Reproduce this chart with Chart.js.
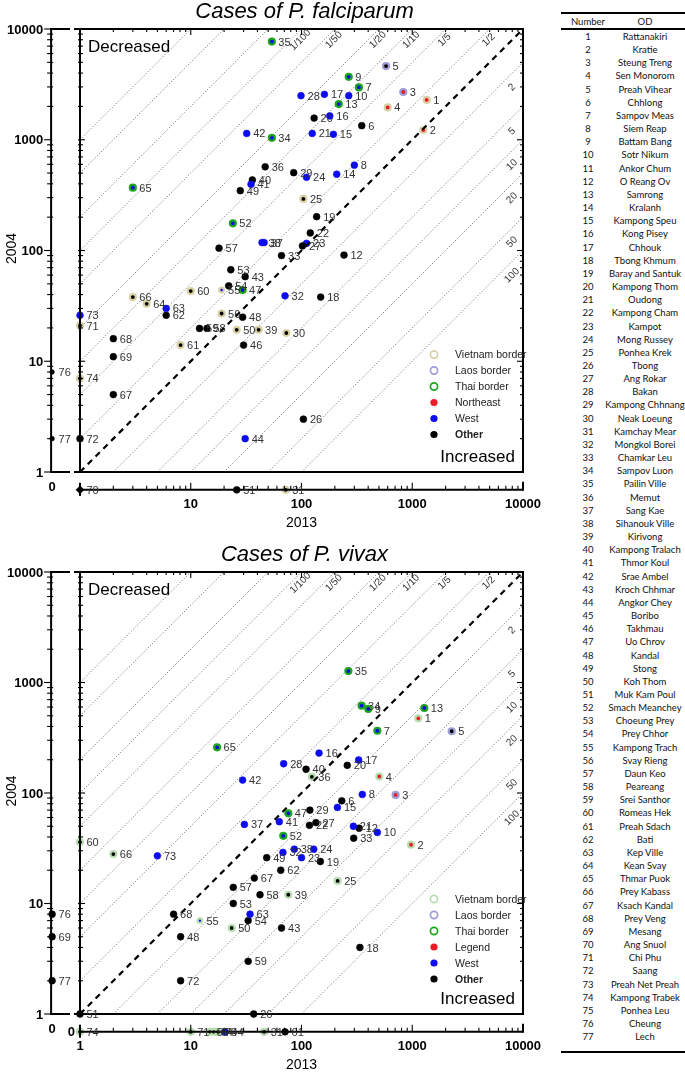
<!DOCTYPE html>
<html lang="en">
<head>
<meta charset="UTF-8" />
<title>Cases of P. falciparum and P. vivax, 2004 vs 2013</title>
<script src="https://cdn.jsdelivr.net/npm/chart.js"></script>
<style>
  body { margin: 0; background: #fff; }
  .page { position: relative; width: 685px; height: 1073px; overflow: hidden; }
  .page canvas { position: absolute; left: 0; }
  #falChart { top: 0; }
  #vivChart { top: 536px; }
  #odTable { position: absolute; left: 561px; top: 0; width: 124px; height: 1073px;
    font-family: Lato, 'Open Sans', sans-serif; font-size: 9.5px; color: #111; }
  #odTable .row { position: absolute; left: 0; width: 124px; height: 13px; line-height: 13px; }
  #odTable .row span { position: absolute; top: 0; text-align: center; white-space: nowrap; }
  #odTable .num { left: 0; width: 54px; }
  #odTable .od { left: 44px; width: 80px; }
  #odTable .rule { position: absolute; left: 0; width: 124px; background: #000; }
</style>
</head>
<body>
<div class="page">
  <canvas id="falChart" width="560" height="536"></canvas>
  <canvas id="vivChart" width="560" height="537"></canvas>
  <div id="odTable"></div>
</div>

<script>
// district names (table, numbered 1..77)
const districts = ["Rattanakiri","Kratie","Steung Treng","Sen Monorom","Preah Vihear","Chhlong","Sampov Meas","Siem Reap","Battam Bang","Sotr Nikum",
  "Ankor Chum","O Reang Ov","Samrong","Kralanh","Kampong Speu","Kong Pisey","Chhouk","Tbong Khmum","Baray and Santuk","Kampong Thom",
  "Oudong","Kampong Cham","Kampot","Mong Russey","Ponhea Krek","Tbong","Ang Rokar","Bakan","Kampong Chhnang","Neak Loeung",
  "Kamchay Mear","Mongkol Borei","Chamkar Leu","Sampov Luon","Pailin Ville","Memut","Sang Kae","Sihanouk Ville","Kirivong","Kampong Tralach",
  "Thmor Koul","Srae Ambel","Kroch Chhmar","Angkor Chey","Boribo","Takhmau","Uo Chrov","Kandal","Stong","Koh Thom",
  "Muk Kam Poul","Smach Meanchey","Choeung Prey","Prey Chhor","Kampong Trach","Svay Rieng","Daun Keo","Peareang","Srei Santhor","Romeas Hek",
  "Preah Sdach","Bati","Kep Ville","Kean Svay","Thmar Puok","Prey Kabass","Ksach Kandal","Prey Veng","Mesang","Ang Snuol",
  "Chi Phu","Saang","Preah Net Preah","Kampong Trabek","Ponhea Leu","Cheung","Lech"];

// P. falciparum: district number, cases 2013 (x), cases 2004 (y), region, border
const falNum  = [1,2,3,4,5,6,7,8,9,10, 12,13,14,15,16,17,18,19,20,21, 22,23,24,25,26,27,28,29,30,31,
                 32,33,34,35,36,37,38,39,40,41, 42,43,44,46,47,48,49,50,51,52, 53,54,55,56,57,58,59,60,61,62,
                 63,64,65,66,67,68,69,70,71,72, 73,74,76,77];
const fal2013 = [1350,1260,830,600,580,350,330,300,267,267, 242,217,208,194,180,161,149,137,130,125, 120,111,111,104,104,102,99,85,73,72,
                 71,66,54,54,47,46,44,41,36,35, 32,31,31,30,29.4,29.4,28,26,26,24, 23,22,19,19,18,14,12,10,8.1,6,
                 6,4,3,3,2,2,2,1,1,1, 1,1,0,0];
const fal2004 = [2290,1225,2700,1960,4630,1340,2970,590,3700,2500, 91,2100,488,1120,1640,2570,38,202,1570,1140, 144,116,458,292,3,110,2500,504,18,0,
                 39,90,1040,7700,570,118,118,19.2,433,396, 1140,58,2,14,44,25,347,19.2,0,176, 67,48,44,27,105,19.8,19.8,43,14,26,
                 30,33,369,38,5,16,11,0,21,2, 26,7,8,2];
const falRegion = ['NE','NE','NE','NE','O','O','W','W','W','W', 'O','W','W','W','W','W','O','O','O','W', 'O','W','W','O','O','O','W','O','O','O',
                   'W','O','W','W','O','W','W','O','O','W', 'W','O','W','O','W','O','O','O','O','W', 'O','O','W','O','O','O','O','O','O','O',
                   'W','O','W','O','O','O','O','O','O','O', 'W','O','O','O'];
const falBorder = ['VN','VN','LA','VN','LA','','TH','','TH','', '','TH','','','','','','','','', '','','','VN','','','','','VN','VN',
                   '','','TH','TH','','','','VN','','', '','','','','TH','','','VN','','TH', '','','VN','VN','','','','VN','VN','',
                   '','VN','TH','VN','','','','','VN','', '','VN','',''];

// P. vivax
const vivNum  = [1,2,3,4,5,6,7,8,9,10, 12,13,15,16,17,18,19,20,21,22, 23,24,25,26,27,28,29,31,32,33,
                 34,35,36,37,38,39,40,41,42,43, 47,48,49,50,51,52,53,54,55,57, 58,59,60,61,62,63,65,66,67,68,
                 69,71,72,73,74,76,77, 56,64,70,44];
const viv2013 = [1135,975,708,504,2270,231,484,354,401,484, 331,1285,211,144,328,337,148,259,294,118, 100,129,212,37,135,69,119,46,68,296,
                 349,265,124,30.5,86,76,110,63,29.4,66, 76,8.1,48.5,23.4,1,68.5,24.2,33,12.1,24.2, 42.2,33,1,71,65,34.3,17.3,2,37.5,7,
                 0,10,8.1,5,1,0,0, 15,16.3,17.7,20.4];
const viv2004 = [474,34,96,141,362,85,366,97,576,44, 48,588,74,230,199,4,24,178,50,51, 26,31,16,1,54,184,70,0,29,39,
                 617,1270,140,52,31,12,164,55,131,6, 65.5,5,26,6,1,41,10,7,7,14, 12,3,36,0,20,8,259,28,17,8,
                 5,0,2,27,0,8,2, 0,0,0,0];
const vivRegion = ['NE','NE','NE','NE','O','O','W','W','W','W', 'O','W','W','W','W','O','O','O','W','O', 'W','W','O','O','O','W','O','O','W','O',
                   'W','W','O','W','W','O','O','W','W','O', 'W','O','O','O','O','W','O','O','W','O', 'O','O','O','O','O','W','W','O','O','O',
                   'O','O','O','W','O','O','O', 'O','O','O','W'];
const vivBorder = ['VN','VN','LA','VN','LA','','TH','','TH','', '','TH','','','','','','','','', '','','VN','','','','','VN','','',
                   'TH','TH','VN','','','VN','','','','', 'TH','','','VN','','TH','','','VN','', '','','VN','','','','TH','VN','','',
                   '','VN','','','VN','','', 'VN','VN','VN',''];

// diagonal fold lines: ratio 2013 / 2004
const foldValues = [0.001, 0.002, 0.005, 0.01, 0.02, 0.05, 0.1, 0.2, 0.5, 2, 5, 10, 20, 50, 100];
const foldLabels = ['', '', '', '1/100', '1/50', '1/20', '1/10', '1/5', '1/2', '2', '5', '10', '20', '50', '100'];

const yTicks = [1, 10, 100, 1000, 10000];
const falXTicks = [10, 100, 1000, 10000];
const vivXTicks = [1, 10, 100, 1000, 10000];
const falLegend = ['Vietnam border', 'Laos border', 'Thai border', 'Northeast', 'West', 'Other'];
const vivLegend = ['Vietnam border', 'Laos border', 'Thai border', 'Legend', 'West', 'Other'];

// where a zero count is placed on the log axes
const ZERO_X = 0.56, ZERO_Y = 0.69;

const FONT = '"Liberation Sans", Arial, sans-serif';
const FILL = { NE: '#ec1c24', W: '#0c0cf0', O: '#000000' };
const RINGS = {
  fal: { VN: '#d8d1a6', LA: '#9d9dd6', TH: '#1ea51e' },
  viv: { VN: '#b7deb0', LA: '#9d9dd6', TH: '#1ea51e' }
};

const decor = {
  id: 'decor',
  afterDatasetsDraw(chart, args, o) {
    const ctx = chart.ctx, xs = chart.scales.x, ys = chart.scales.y;
    const px = v => xs.getPixelForValue(v), py = v => ys.getPixelForValue(v);
    const x0 = px(ZERO_X), x1 = px(1), xR = px(10000);
    const yT = py(10000), y1 = py(1), y0 = py(ZERO_Y);
    const seg = (a, b, c, d) => { ctx.beginPath(); ctx.moveTo(a, b); ctx.lineTo(c, d); ctx.stroke(); };
    ctx.save();

    // frame with the axis break
    ctx.strokeStyle = '#000';
    ctx.lineWidth = 2;
    seg(x0 - 2, yT, x1 - 10, yT); seg(x1 - 6, yT, xR + 1, yT);
    seg(x0 - 2, y1, x1 - 10, y1); seg(x1 - 6, y1, xR + 1, y1);
    seg(x0 - 1, yT, x0 - 1, y1);
    seg(x1, yT, x1, y1);
    seg(xR, yT, xR, y1);
    seg(x1 - 1, y0, xR, y0);
    seg(x1, y0 - 7, x1, y0 + 6);
    seg(xR, y0 - 8, xR, y0 + 1);

    ctx.lineWidth = 1.1;
    for (let d = 0; d <= 4; d++) {
      for (let m = 1; m <= 9; m++) {
        if (d === 4 && m > 1) break;
        const v = m * Math.pow(10, d), big = m === 1;
        const X = px(v), Y = py(v);
        seg(x0 - 1 - (big ? 7 : 4), Y, x0 - 1 + (big ? 0 : 2), Y);
        seg(x1 - 2, Y, x1 + (big ? 5 : 3), Y);
        seg(xR - (big ? 6 : 3), Y, xR, Y);
        seg(X, yT, X, yT + (big ? 6 : 3));
        seg(X, y0, X, y0 - (big ? 7 : 4));
      }
    }

    // tick labels
    ctx.fillStyle = '#000';
    ctx.font = 'bold 13px ' + FONT;
    ctx.textBaseline = 'middle';
    ctx.textAlign = 'right';
    yTicks.forEach(v => ctx.fillText(String(v), x0 - 9, py(v) + 1));
    if (o.yZero) ctx.fillText('0', x1 - 5, y0 + 1);
    ctx.textAlign = 'center';
    ctx.fillText('0', x0, y0 - 2);
    o.xTicks.forEach(v => ctx.fillText(String(v), px(v), y0 + 15));

    // axis titles and chart title
    ctx.font = '14px ' + FONT;
    ctx.fillText('2013', px(100), y0 + 33);
    ctx.save();
    ctx.translate(12, py(100) - 2);
    ctx.rotate(-Math.PI / 2);
    ctx.fillText('2004', 0, 0);
    ctx.restore();
    ctx.font = 'italic 22px ' + FONT;
    ctx.fillText(o.title, px(100) + 3, yT - 17);

    ctx.font = '17px ' + FONT;
    ctx.textAlign = 'left';
    ctx.fillText('Decreased', x1 + 8, yT + 18);
    ctx.textAlign = 'right';
    ctx.fillText('Increased', xR - 8, y1 - 15);

    // fold labels along the dotted lines
    ctx.font = '10px ' + FONT;
    ctx.fillStyle = '#333';
    ctx.textAlign = 'center';
    foldValues.forEach((r, i) => {
      if (!foldLabels[i]) return;
      let X, Y;
      if (r < 1) {
        Y = yT + 11;
        X = px(ys.getValueForPixel(Y) * r) + 10;
      } else {
        X = xR - 11;
        Y = py(xs.getValueForPixel(X) / r) + 14;
      }
      ctx.save();
      ctx.translate(X, Y);
      ctx.rotate(-Math.PI / 4);
      ctx.fillText(foldLabels[i], 0, 0);
      ctx.restore();
    });

    // point number labels
    const meta = chart.getDatasetMeta(chart.data.datasets.length - 1);
    ctx.font = '11px ' + FONT;
    ctx.fillStyle = '#333';
    ctx.textAlign = 'left';
    meta.data.forEach((el, i) => ctx.fillText(String(o.nums[i]), el.x + 6.5, el.y + 1));

    // legend
    const lx = xR - 89;
    o.legend.forEach((lab, i) => {
      const y = o.legendTop + i * 16;
      ctx.beginPath();
      ctx.arc(lx, y, 3.6, 0, Math.PI * 2);
      if (i < 3) {
        ctx.strokeStyle = o.rings[['VN', 'LA', 'TH'][i]];
        ctx.lineWidth = 1.7;
        ctx.stroke();
      } else {
        ctx.fillStyle = FILL[['NE', 'W', 'O'][i - 3]];
        ctx.fill();
      }
      ctx.fillStyle = '#222';
      ctx.font = (i === 5 ? 'bold ' : '') + '10.5px ' + FONT;
      ctx.fillText(lab, lx + 21, y + 1);
    });
    ctx.restore();
  }
};

function foldLine(r) {
  const pts = r < 1 ? [{ x: 1, y: 1 / r }, { x: 10000 * r, y: 10000 }]
                    : [{ x: r, y: 1 }, { x: 10000, y: 10000 / r }];
  return { data: pts, showLine: true, borderColor: '#555', borderWidth: 0.9,
           borderDash: [1, 2], pointRadius: 0 };
}

function makeChart(id, d) {
  const rings = RINGS[d.kind];
  const points = d.num.map((n, i) => ({
    x: d.x[i] === 0 ? ZERO_X : d.x[i],
    y: d.y[i] === 0 ? ZERO_Y : d.y[i]
  }));
  const isSmall = i => (d.kind === 'fal' && d.x[i] === 0) || d.num[i] === 55;
  const pointSet = {
    data: points,
    pointStyle: c => d.num[c.dataIndex] === 70 && d.kind === 'fal' ? 'rectRot' : 'circle',
    pointRadius: c => {
      const i = c.dataIndex;
      if (d.num[i] === 70 && d.kind === 'fal') return 4;
      if (isSmall(i)) return 2.3;
      return d.border[i] ? 3 : 3.4;
    },
    pointBackgroundColor: c => FILL[d.region[c.dataIndex]],
    pointBorderColor: c => d.border[c.dataIndex] ? rings[d.border[c.dataIndex]] : FILL[d.region[c.dataIndex]],
    pointBorderWidth: c => d.border[c.dataIndex] ? 2.2 : 0.6
  };
  const diag = { data: [{ x: 1, y: 1 }, { x: 10000, y: 10000 }], showLine: true,
                 borderColor: '#000', borderWidth: 2.2, borderDash: [6, 5], pointRadius: 0 };

  return new Chart(document.getElementById(id), {
    type: 'scatter',
    data: { datasets: foldValues.map(foldLine).concat([diag, pointSet]) },
    options: {
      responsive: false,
      animation: false,
      events: [],
      layout: { padding: d.padding },
      scales: {
        x: { type: 'logarithmic', min: 0.5, max: 10000, display: false },
        y: { type: 'logarithmic', min: d.yMin, max: 10000, display: false }
      },
      plugins: {
        legend: { display: false },
        tooltip: { enabled: false },
        decor: { title: d.title, xTicks: d.xTicks, yZero: d.yZero, nums: d.num,
                 legend: d.legend, legendTop: d.legendTop, rings }
      }
    },
    plugins: [decor]
  });
}

makeChart('falChart', {
  kind: 'fal', title: 'Cases of P. falciparum',
  num: falNum, x: fal2013, y: fal2004, region: falRegion, border: falBorder,
  xTicks: falXTicks, yZero: false, legend: falLegend, legendTop: 354.5,
  yMin: 0.6, padding: { left: 46.66, right: 37, top: 29, bottom: 39.43 }
});

makeChart('vivChart', {
  kind: 'viv', title: 'Cases of P. vivax',
  num: vivNum, x: viv2013, y: viv2004, region: vivRegion, border: vivBorder,
  xTicks: vivXTicks, yZero: true, legend: vivLegend, legendTop: 363,
  yMin: 0.55, padding: { left: 46.66, right: 37, top: 36, bottom: 30.31 }
});

// district table
const table = document.getElementById('odTable');
function rule(top, h) {
  const r = document.createElement('div');
  r.className = 'rule';
  r.style.top = top + 'px';
  r.style.height = h + 'px';
  table.appendChild(r);
}
function row(top, a, b) {
  const r = document.createElement('div');
  r.className = 'row';
  r.style.top = top + 'px';
  r.innerHTML = '<span class="num"></span><span class="od"></span>';
  r.children[0].textContent = a;
  r.children[1].textContent = b;
  table.appendChild(r);
}
rule(12, 2);
row(14.5, 'Number', 'OD');
rule(28, 1.5);
districts.forEach((name, i) => row(30 + i * 13.16, String(i + 1), name));
rule(1051, 2);
</script>
</body>
</html>
